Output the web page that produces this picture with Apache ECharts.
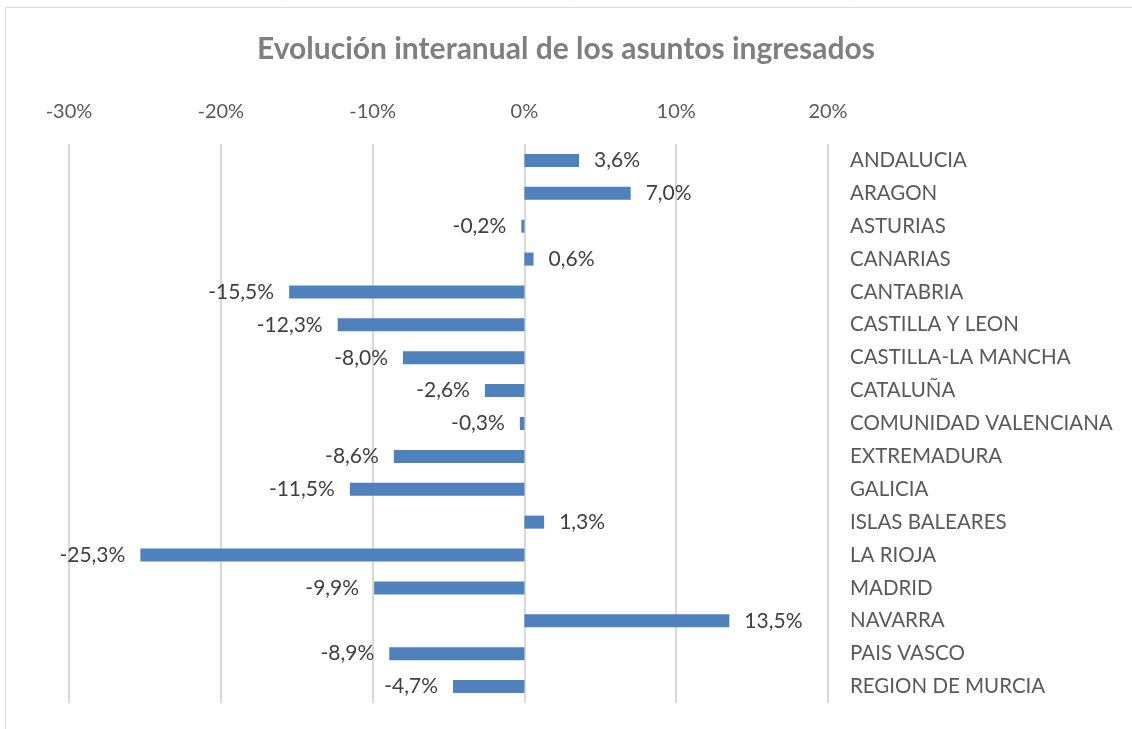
<!DOCTYPE html>
<html>
<head>
<meta charset="utf-8">
<script src="https://cdn.jsdelivr.net/npm/echarts@6/dist/echarts.min.js"></script>
<style>
html,body{margin:0;padding:0;background:#fff;}
#chart{width:1132px;height:729px;}
</style>
</head>
<body>
<div id="chart"></div>
<script>
const titleText = 'Evolución interanual de los asuntos ingresados';
const categories = ['ANDALUCIA','ARAGON','ASTURIAS','CANARIAS','CANTABRIA','CASTILLA Y LEON','CASTILLA-LA MANCHA','CATALUÑA','COMUNIDAD VALENCIANA','EXTREMADURA','GALICIA','ISLAS BALEARES','LA RIOJA','MADRID','NAVARRA','PAIS VASCO','REGION DE MURCIA'];
const values = [3.6, 7.0, -0.2, 0.6, -15.5, -12.3, -8.0, -2.6, -0.3, -8.6, -11.5, 1.3, -25.3, -9.9, 13.5, -8.9, -4.7];
const xTicks = [-30, -20, -10, 0, 10, 20];

const font = 'Lato, "Open Sans", sans-serif';
const chart = echarts.init(document.getElementById('chart'), null, {renderer:'canvas'});
chart.setOption({
  animation: false,
  backgroundColor: '#fff',
  graphic: [{
    type: 'rect', shape: {x: 5.5, y: 7.5, width: 1200, height: 800},
    style: {fill: 'none', stroke: '#d9d9d9', lineWidth: 1}, silent: true
  }],
  title: {
    text: titleText, left: 'center', top: 29,
    textStyle: {fontFamily: font, fontSize: 30, fontWeight: 'bold', color: '#7f7f7f'}
  },
  grid: {left: 69, right: 304, top: 144, bottom: 26, containLabel: false},
  xAxis: {
    type: 'value', position: 'top',
    min: xTicks[0], max: xTicks[xTicks.length - 1], interval: 10,
    axisLine: {show: false}, axisTick: {show: false},
    splitLine: {show: true, lineStyle: {color: '#d9d9d9', width: 2}},
    axisLabel: {margin: 22, formatter: v => v + '%', fontFamily: font, fontSize: 20, color: '#595959'}
  },
  yAxis: {
    type: 'category', data: categories, inverse: true, position: 'right',
    axisLine: {show: false}, axisTick: {show: false},
    axisLabel: {margin: 22, align: 'left', fontFamily: font, fontSize: 20.5, color: '#595959'}
  },
  series: [{
    type: 'bar', barWidth: 13,
    itemStyle: {color: '#4f81bd'},
    data: values.map(v => ({
      value: v,
      label: {show: true, position: v >= 0 ? 'right' : 'left', distance: 15,
        formatter: p => p.value.toFixed(1).replace('.', ',') + '%',
        fontFamily: font, fontSize: 21, color: '#404040'}
    }))
  }]
});
</script>
</body>
</html>
